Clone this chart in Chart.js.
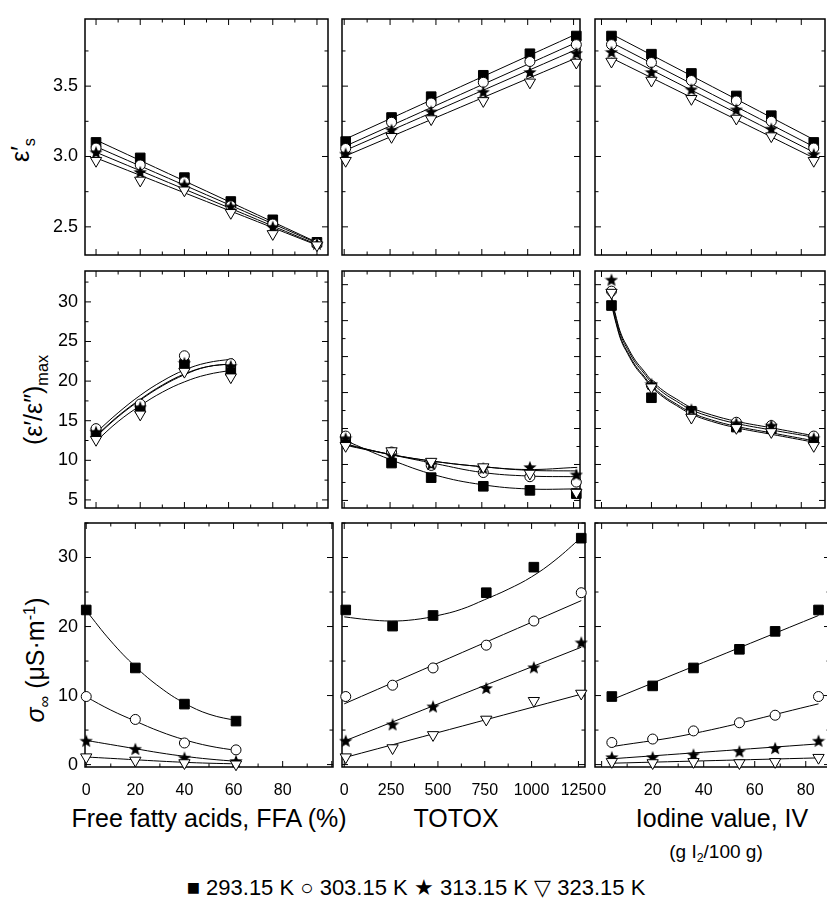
<!DOCTYPE html>
<html>
<head>
<meta charset="utf-8">
<script src="https://cdn.jsdelivr.net/npm/chart.js@4.4.1/dist/chart.umd.min.js"></script>
<style>
  body { margin: 0; background: #fff; width: 827px; height: 905px; position: relative; overflow: hidden;
         font-family: "Liberation Sans", Arial, sans-serif; color: #000; }
  canvas { position: absolute; }
  .t { position: absolute; white-space: nowrap; transform: translate(-50%, -50%); font-size: 25px; }
  .rot { transform: translate(-50%, -50%) rotate(-90deg); }
  .t sub, .t sup { font-size: 65%; }
</style>
</head>
<body>
<div class="t rot" style="left:22px;top:150px">ε′<sub>s</sub></div>
<div class="t rot" style="left:35px;top:400px">(ε′/ε″)<sub>max</sub></div>
<div class="t rot" style="left:37px;top:660px"><i>σ</i><sub>∞</sub> (μS·m<sup>-1</sup>)</div>
<div class="t" style="left:209px;top:818px">Free fatty acids, FFA (%)</div>
<div class="t" style="left:456px;top:818px">TOTOX</div>
<div class="t" style="left:722px;top:818px">Iodine value, IV</div>
<div class="t" style="left:716px;top:853px;font-size:19px">(g I<sub>2</sub>/100 g)</div>
<div class="t" style="left:416px;top:888px;font-size:22px">■ 293.15 K&nbsp;○ 303.15 K&nbsp;★ 313.15 K&nbsp;▽ 323.15 K</div>
<script>
// sample temperatures (one series each)
const temps = ['293.15 K', '303.15 K', '313.15 K', '323.15 K']

// x values of the samples
const ffa = [0, 20, 40, 61, 80, 100]
const ffaShort = [0, 20, 40, 61]
const totox = [8, 258, 474, 758, 1012, 1265]
const iv = [4, 20, 36, 54, 68, 85]

// tick labels
const ffaTicks = [0, 20, 40, 60, 80]
const totoxTicks = [0, 250, 500, 750, 1000, 1250]
const ivTicks = [0, 20, 40, 60, 80]
const epsTicks = [2.5, 3.0, 3.5]
const ratioTicks = [5, 10, 15, 20, 25, 30]
const sigmaTicks = [0, 10, 20, 30]

// static permittivity eps's
const epsFFA = [
  [3.10, 2.99, 2.85, 2.68, 2.55, 2.39],
  [3.06, 2.94, 2.82, 2.65, 2.52, 2.38],
  [3.03, 2.89, 2.80, 2.645, 2.50, 2.38],
  [2.97, 2.83, 2.76, 2.60, 2.45, 2.37]]
const epsTotox = [
  [3.106, 3.277, 3.425, 3.577, 3.73, 3.856],
  [3.057, 3.243, 3.38, 3.527, 3.675, 3.795],
  [3.02, 3.19, 3.32, 3.46, 3.60, 3.735],
  [2.97, 3.14, 3.266, 3.395, 3.527, 3.668]]
const epsIV = [
  [3.856, 3.727, 3.59, 3.43, 3.29, 3.10],
  [3.795, 3.668, 3.54, 3.395, 3.25, 3.06],
  [3.743, 3.60, 3.477, 3.334, 3.198, 3.016],
  [3.675, 3.54, 3.41, 3.27, 3.145, 2.97]]
const epsFFAfitX = [0, 100]
const epsFFAfit = [[3.117, 2.39], [3.07, 2.385], [3.03, 2.375], [2.99, 2.37]]
const epsTotoxFitX = [0, 1265]
const epsTotoxFit = [[3.12, 3.87], [3.07, 3.81], [3.04, 3.76], [3.0, 3.70]]
const epsIVfitX = [4, 85]
const epsIVfit = [[3.87, 3.12], [3.81, 3.07], [3.76, 3.03], [3.70, 2.99]]

// (eps'/eps'')max
const ratioFFA = [
  [13.5, 16.6, 22.1, 21.3],
  [14.0, 17.1, 23.2, 22.2],
  [13.6, 16.7, 22.3, 21.9],
  [12.6, 15.8, 21.2, 20.5]]
const ratioTotox = [
  [13.5, 10.2, 8.17, 6.97, 6.4, 5.95],
  [13.95, 11.73, 9.87, 8.88, 8.3, 7.55],
  [13.64, 11.28, 10.08, 9.5, 9.64, 8.61],
  [12.6, 11.87, 10.4, 9.64, 8.75, 6.1]]
const ratioIV = [
  [32.1, 19.28, 17.4, 15.2, 14.97, 13.5],
  [34.1, 20.97, 17.2, 15.87, 15.41, 13.95],
  [35.7, 21.2, 17.64, 15.73, 15.41, 13.64],
  [33.9, 20.75, 16.53, 15.1, 14.53, 12.6]]
const ratioFFAfitX = [0, 10, 20, 30, 40, 50, 62]
const ratioFFAfit = [
  [13.0, 15.5, 17.6, 19.4, 20.8, 21.8, 22.2],
  [13.5, 16.0, 18.2, 20.0, 21.4, 22.3, 22.8],
  [13.1, 15.6, 17.7, 19.5, 20.9, 21.8, 22.2],
  [12.4, 14.9, 16.9, 18.6, 19.9, 20.8, 21.4]]
const ratioTotoxFitX = [0, 250, 500, 750, 1000, 1270]
const ratioTotoxFit = [
  [13.4, 10.7, 8.5, 7.2, 6.6, 6.6],
  [12.8, 11.4, 10.1, 8.9, 8.4, 8.3],
  [12.9, 11.4, 10.4, 9.7, 9.3, 9.6],
  [12.7, 11.4, 10.4, 9.7, 9.2, 9.1]]
const ratioIVfitX = [4, 6, 8, 10.5, 13.5, 17, 20, 25, 30, 36, 44, 54, 68, 85]
const ratioIVfit = [
  [32.4, 29.6, 27.3, 25.6, 23.8, 22.3, 21.0, 19.5, 18.4, 17.2, 16.2, 15.3, 14.4, 13.3],
  [33.0, 30.0, 27.7, 26.0, 24.2, 22.7, 21.4, 19.9, 18.8, 17.6, 16.6, 15.7, 14.8, 13.8],
  [33.4, 30.3, 28.0, 26.3, 24.5, 23.0, 21.7, 20.2, 19.1, 17.9, 16.9, 16.0, 15.1, 14.0],
  [32.2, 29.4, 27.1, 25.4, 23.6, 22.1, 20.8, 19.3, 18.2, 17.0, 16.0, 15.1, 14.2, 13.1]]

// conductivity sigma_inf (uS/m)
const sigmaFFA = [
  [22.4, 14.0, 8.76, 6.3],
  [9.86, 6.54, 3.13, 2.13],
  [3.46, 2.28, 1.0, 0.52],
  [1.08, 0.6, 0.23, 0.05]]
const sigmaTotox = [
  [22.4, 20.06, 21.6, 24.9, 28.6, 32.8],
  [9.86, 11.5, 14.0, 17.3, 20.8, 24.9],
  [3.46, 5.83, 8.43, 11.1, 14.1, 17.7],
  [1.08, 2.4, 4.3, 6.54, 9.25, 10.3]]
const sigmaIV = [
  [9.86, 11.4, 14.0, 16.7, 19.3, 22.4],
  [3.2, 3.7, 4.88, 6.06, 7.15, 9.86],
  [1.08, 1.08, 1.46, 1.93, 2.4, 3.46],
  [0.4, 0.23, 0.4, 0.23, 0.4, 1.0]]
const sigmaFFAfitX = [0, 10, 20, 30, 40, 50, 62]
const sigmaFFAfit = [
  [22.3, 17.9, 14.2, 11.2, 8.9, 7.3, 6.3],
  [9.8, 7.9, 6.3, 4.8, 3.6, 2.7, 2.0],
  [3.5, 2.9, 2.3, 1.7, 1.2, 0.8, 0.45],
  [1.1, 0.9, 0.7, 0.5, 0.33, 0.2, 0.1]]
const sigmaTotoxFitX = [
  [0, 125, 250, 375, 500, 625, 750, 875, 1000, 1125, 1265],
  [0, 1265], [0, 1265], [0, 1265]]
const sigmaTotoxFit = [
  [21.4, 21.0, 20.8, 21.0, 21.6, 22.5, 23.9, 25.4, 27.2, 29.6, 32.9],
  [8.8, 23.75], [3.4, 17.0], [1.0, 10.2]]
const sigmaIVfitX = [[4, 85], [4, 36, 85], [4, 85], [4, 85]]
const sigmaIVfit = [[9.4, 21.6], [2.6, 4.5, 8.8], [0.84, 3.0], [0.2, 0.97]]

// ---- drawing ----
Chart.defaults.font.family = '"Liberation Sans", Arial, sans-serif'
Chart.defaults.color = '#000'

function starImage(size) {
  const c = document.createElement('canvas')
  c.width = c.height = size
  const g = c.getContext('2d')
  g.beginPath()
  for (let i = 0; i < 10; i++) {
    const r = i % 2 ? size * 0.21 : size / 2
    const a = -Math.PI / 2 + i * Math.PI / 5
    g.lineTo(size / 2 + r * Math.cos(a), size * 0.55 + r * Math.sin(a))
  }
  g.closePath()
  g.fillStyle = '#000'
  g.fill()
  return c
}

const markers = [
  {pointStyle: 'rect', pointRadius: 6.8, pointBackgroundColor: '#000', pointBorderColor: '#000'},
  {pointStyle: 'circle', pointRadius: 5, pointBackgroundColor: '#fff', pointBorderColor: '#000'},
  {pointStyle: starImage(14), pointRadius: 7, pointBackgroundColor: '#000', pointBorderColor: '#000'},
  {pointStyle: 'triangle', pointRotation: 180, pointRadius: 6.5, pointBackgroundColor: '#fff', pointBorderColor: '#000'}
]

// inward tick marks on all four sides + frame
const tickMarks = {
  id: 'tickMarks',
  beforeDatasetsDraw(chart, args, o) {
    const {ctx, chartArea: a, scales} = chart
    const marks = (scale, minor) => {
      const out = []
      for (let k = Math.ceil(scale.min / minor - 1e-9); k * minor <= scale.max + 1e-9; k++) {
        out.push({p: scale.getPixelForValue(k * minor), major: k % 2 === 0})
      }
      return out
    }
    ctx.save()
    ctx.strokeStyle = '#000'
    ctx.lineWidth = 1
    ctx.beginPath()
    marks(scales.x, o.xMinor).forEach(m => {
      const len = m.major ? 6 : 3.5
      ctx.moveTo(m.p, a.bottom); ctx.lineTo(m.p, a.bottom - len)
      ctx.moveTo(m.p, a.top); ctx.lineTo(m.p, a.top + len)
    })
    marks(scales.y, o.yMinor).forEach(m => {
      const len = m.major ? 6 : 3.5
      ctx.moveTo(a.left, m.p); ctx.lineTo(a.left + len, m.p)
      ctx.moveTo(a.right, m.p); ctx.lineTo(a.right - len, m.p)
    })
    ctx.stroke()
    ctx.lineWidth = 1.5
    ctx.strokeRect(a.left, a.top, a.right - a.left, a.bottom - a.top)
    ctx.restore()
  }
}

const cols = [{l: 85, r: 333}, {l: 337, r: 585}, {l: 590, r: 830}]
const rows = [{t: 14, b: 260}, {t: 266, b: 513}, {t: 518, b: 767}]

const xFFA = {min: -5, max: 105, minor: 10, labels: ffaTicks}
const xFFAlow = {min: -0.5, max: 100.5, minor: 10, labels: ffaTicks}
const xTotox = {min: -12, max: 1285, minor: 125, labels: totoxTicks}
const xIV = {min: -2.6, max: 89.5, minor: 10, labels: ivTicks}
const yEps = {min: 2.3, max: 3.977, minor: 0.25, labels: epsTicks, dec: 1}
const yRatio = {min: 3.98, max: 33.9, minor: 2.5, labels: ratioTicks}
const yRatio2 = {min: 3.95, max: 36.9, minor: 2.5, labels: ratioTicks}
const ySigma = {min: -0.35, max: 35, minor: 5, labels: sigmaTicks}

const noPad = s => { s.paddingLeft = 0; s.paddingRight = 0; s.paddingTop = 0; s.paddingBottom = 0 }

function panel(col, row, xs, ys, fitX, fitY, xAx, yAx) {
  const c = cols[col], r = rows[row]
  const padL = col === 0 ? 85 : 3, padR = row === 2 ? 24 : 3, padT = 3, padB = row === 2 ? 38 : 3
  const w = c.r - c.l + padL + padR, h = r.b - r.t + padT + padB
  const cv = document.createElement('canvas')
  cv.width = w; cv.height = h
  cv.style.width = w + 'px'; cv.style.height = h + 'px'
  cv.style.left = (c.l - padL) + 'px'; cv.style.top = (r.t - padT) + 'px'
  document.body.appendChild(cv)

  const datasets = []
  temps.forEach((t, i) => {
    const fx = Array.isArray(fitX[0]) ? fitX[i] : fitX
    datasets.push({
      label: t + ' fit',
      data: fx.map((x, j) => ({x, y: fitY[i][j]})),
      borderColor: '#000', borderWidth: 1, pointRadius: 0, tension: 0.4, order: 10
    })
    datasets.push({
      label: t,
      data: ys[i].map((y, j) => ({x: xs[j], y})),
      showLine: false, pointBorderWidth: 1, clip: 10, order: 4 - i,
      ...markers[i]
    })
  })

  new Chart(cv, {
    type: 'line',
    data: {datasets},
    options: {
      responsive: false,
      animation: false,
      events: [],
      layout: {padding: {left: col === 0 ? 0 : padL, right: padR, top: padT, bottom: row === 2 ? 0 : padB}},
      scales: {
        x: {
          type: 'linear', min: xAx.min, max: xAx.max, display: row === 2,
          grid: {display: false, drawTicks: false}, border: {display: false},
          afterBuildTicks: s => { s.ticks = xAx.labels.map(v => ({value: v})) },
          afterFit: s => { s.height = padB; noPad(s) },
          ticks: {font: {size: 16}, padding: 14, maxRotation: 0, autoSkip: false, callback: v => String(v)}
        },
        y: {
          type: 'linear', min: yAx.min, max: yAx.max, display: col === 0,
          grid: {display: false, drawTicks: false}, border: {display: false},
          afterBuildTicks: s => { s.ticks = yAx.labels.map(v => ({value: v})) },
          afterFit: s => { s.width = padL; noPad(s) },
          ticks: {font: {size: 18}, padding: 7, autoSkip: false,
                  callback: v => yAx.dec ? v.toFixed(yAx.dec) : String(v)}
        }
      },
      plugins: {
        legend: {display: false},
        tooltip: {enabled: false},
        tickMarks: {xMinor: xAx.minor, yMinor: yAx.minor}
      }
    },
    plugins: [tickMarks]
  })
}

panel(0, 0, ffa, epsFFA, epsFFAfitX, epsFFAfit, xFFA, yEps)
panel(1, 0, totox, epsTotox, epsTotoxFitX, epsTotoxFit, xTotox, yEps)
panel(2, 0, iv, epsIV, epsIVfitX, epsIVfit, xIV, yEps)
panel(0, 1, ffaShort, ratioFFA, ratioFFAfitX, ratioFFAfit, xFFA, yRatio)
panel(1, 1, totox, ratioTotox, ratioTotoxFitX, ratioTotoxFit, xTotox, yRatio2)
panel(2, 1, iv, ratioIV, ratioIVfitX, ratioIVfit, xIV, yRatio2)
panel(0, 2, ffaShort, sigmaFFA, sigmaFFAfitX, sigmaFFAfit, xFFAlow, ySigma)
panel(1, 2, totox, sigmaTotox, sigmaTotoxFitX, sigmaTotoxFit, xTotox, ySigma)
panel(2, 2, iv, sigmaIV, sigmaIVfitX, sigmaIVfit, xIV, ySigma)
</script>
</body>
</html>
